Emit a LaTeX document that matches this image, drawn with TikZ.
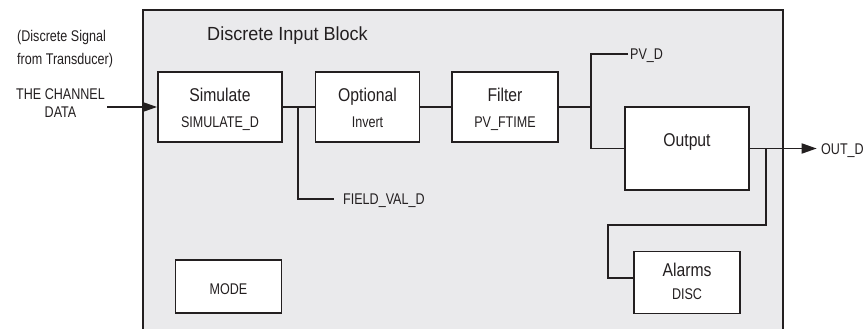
\documentclass[tikz,border=0pt]{standalone}
\usepackage{fontspec}
\setmainfont{Liberation Sans}[FakeStretch=0.81]
\newfontfamily\boxfont{Liberation Sans}[FakeStretch=0.85]
\newfontfamily\titlefont{Liberation Sans}[FakeStretch=0.95]
\usetikzlibrary{arrows.meta, positioning, calc}
\definecolor{blockbg}{HTML}{EAEAEC}
\definecolor{ink}{HTML}{231F20}
\newcommand{\bigtxt}{\boxfont\fontsize{18.5}{22}\selectfont}
\newcommand{\smalltxt}{\fontsize{15.5}{18}\selectfont}
\tikzset{
  blk/.style={draw=ink, fill=white, line width=1.8pt, inner sep=0pt},
  wire/.style={draw=ink, line width=1.8pt},
  sigarrow/.style={-{Triangle[length=15pt,width=10pt]}},
  lbl/.style={text=ink, inner sep=0pt}
}

\begin{document}
\begin{tikzpicture}[x=1pt, y=-1pt, font=\smalltxt]
  \useasboundingbox (0,0) rectangle (865,329);
  % grey block, open at the bottom
  \fill[blockbg] (143,10) rectangle (783,335);
  \draw[ink, line width=1.3pt] (143,335) -- (143,10) -- (783,10) -- (783,335);

  % boxes
  \foreach \id/\x/\y/\w/\h in {
    sim/220/107/124/70,
    opt/367.5/107/104/70,
    filt/505/107/106/70,
    outp/687/148.5/124/83,
    alarm/687/282.5/106/62,
    mode/228.5/286.5/106/53
  } {
    \node[blk, minimum width=\w pt, minimum height=\h pt] (\id) at (\x,\y) {};
  }

  % texts
  \node[lbl, font=\titlefont\fontsize{19}{22}\selectfont, anchor=base] (title) at (287.5,41) {Discrete Input Block};
  \node[lbl, anchor=base west] (src1) at (17,41.5) {(Discrete Signal};
  \node[lbl, anchor=base west] (src2) at (17,64.5) {from Transducer)};
  \node[lbl, anchor=base] (chan1) at (60.5,99.3) {THE CHANNEL};
  \node[lbl, anchor=base] (chan2) at (60.5,117.7) {DATA};
  \node[lbl, font=\bigtxt, anchor=base] (simtxt) at (220,102) {Simulate};
  \node[lbl, anchor=base] (simsub) at (220,128) {SIMULATE\_D};
  \node[lbl, font=\bigtxt, anchor=base] (opttxt) at (367.5,102) {Optional};
  \node[lbl, anchor=base] (optsub) at (367.5,128) {Invert};
  \node[lbl, font=\bigtxt, anchor=base] (filttxt) at (505,102) {Filter};
  \node[lbl, anchor=base] (filtsub) at (505,128) {PV\_FTIME};
  \node[lbl, font=\bigtxt, anchor=base] (outtxt) at (687,146.5) {Output};
  \node[lbl, font=\bigtxt, anchor=base] (almtxt) at (687,276.5) {Alarms};
  \node[lbl, anchor=base] (almsub) at (687,299.5) {DISC};
  \node[lbl, anchor=base] (modetxt) at (228.5,294) {MODE};

  % connectors
  \coordinate (chin) at (107,107);
  \coordinate (fv) at (298.3,107);
  \coordinate (fvend) at (334,199.3);
  \coordinate (pvtop) at (590.7,54);
  \coordinate (pvend) at (628,54);
  \coordinate (tap) at (766,148.5);
  \coordinate (outd) at (816.7,148.5);
  \coordinate (a1) at (766,225);
  \coordinate (a2) at (608.3,278);

  \draw[wire, sigarrow] (chin) -- (sim.west);
  \draw[wire] (sim.east) -- (opt.west);
  \draw[wire] (fv) |- (fvend);
  \draw[wire] (opt.east) -- (filt.west);
  \draw[wire] (filt.east) -- (pvtop |- filt.east);
  \draw[wire] (pvend) -- (pvtop) |- (outp.west);
  \draw[wire, sigarrow] (outp.east) -- (outd);
  \draw[wire] (tap) -- (a1) -| (a2) -- (a2 -| alarm.west);

  \node[lbl, anchor=base west] (fvtxt) at (343,204.8) {FIELD\_VAL\_D};
  \node[lbl, anchor=base west] (pvtxt) at (630,59.5) {PV\_D};
  \node[lbl, anchor=base west] (outdtxt) at (821,154) {OUT\_D};
\end{tikzpicture}
\end{document}
